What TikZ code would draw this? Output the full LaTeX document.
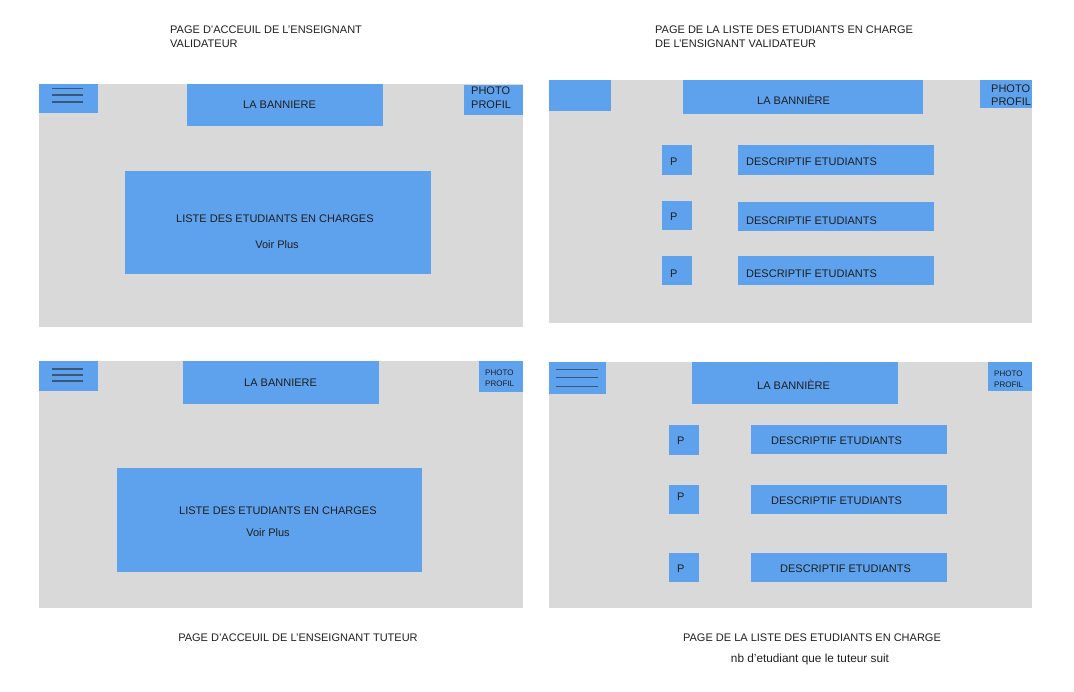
\documentclass[tikz,border=0pt]{standalone}
\usepackage{fontspec}
\setmainfont{Liberation Sans}
\usetikzlibrary{positioning}
\definecolor{pagegray}{HTML}{D9D9D9}
\definecolor{blockblue}{HTML}{5EA2EE}
\definecolor{burgerline}{HTML}{3A5679}

\begin{document}
\begin{tikzpicture}[x=1pt,y=-1pt,font=\fontsize{11}{14}\selectfont,
page/.style={fill=pagegray,inner sep=0pt,outer sep=0pt,anchor=north west},
block/.style={fill=blockblue,inner sep=0pt,outer sep=0pt,anchor=north west},
lbl/.style={inner sep=0pt,anchor=west,text=black!88,yshift=-0.8pt},
small lbl/.style={lbl,font=\fontsize{8}{9}\selectfont},
burger/.style={draw=burgerline,line width=1.2pt}]
\useasboundingbox (0,0) rectangle (1074,692);

%titles
\node[lbl,anchor=north west,align=left] (titleA) at (170,25) {PAGE D’ACCEUIL DE L’ENSEIGNANT\\VALIDATEUR};
\node[lbl,anchor=north west,align=left] (titleB) at (655,25) {PAGE DE LA LISTE DES ETUDIANTS EN CHARGE\\DE L’ENSIGNANT VALIDATEUR};
\node[lbl,anchor=center] (titleC) at (298,637) {PAGE D’ACCEUIL DE L’ENSEIGNANT TUTEUR};
\node[lbl,anchor=center] (titleD) at (812,637) {PAGE DE LA LISTE DES ETUDIANTS EN CHARGE};
\node[lbl,anchor=center,font=\fontsize{11.8}{14}\selectfont] (noteD) at (810,659) {nb d’etudiant que le tuteur suit};

%accueil validateur
\node[page,minimum width=484pt,minimum height=243pt] (pageA) at (39,84) {};
\node[block,minimum width=59pt,minimum height=29pt] (menuA) at (39,84) {};
\node[block,minimum width=196pt,minimum height=42pt] (bannerA) at (187,84) {};
\node[block,minimum width=59pt,minimum height=30pt] (photoA) at (464,85) {};
\node[block,minimum width=306pt,minimum height=103pt] (listA) at (125,171) {};
\draw[burger] ([shift={(13,4.5)}]menuA.north west) -- ++(31,0);
\draw[burger] ([shift={(13,11)}]menuA.north west) -- ++(31,0);
\draw[burger] ([shift={(13,18)}]menuA.north west) -- ++(31,0);
\node[lbl] (bannerAtxt) at (243,104) {LA BANNIERE};
\node[lbl] (photoAtxt) at (471,90) {PHOTO};
\node[lbl] (profilAtxt) at (471,104) {PROFIL};
\node[lbl] (listAtxt) at (176,218) {LISTE DES ETUDIANTS EN CHARGES};
\node[lbl,anchor=center] (moreA) at (277,244) {Voir Plus};

%liste validateur
\node[page,minimum width=483pt,minimum height=243pt] (pageB) at (549,80) {};
\node[block,minimum width=62pt,minimum height=31pt] (menuB) at (549,80) {};
\node[block,minimum width=240pt,minimum height=34pt] (bannerB) at (683,80) {};
\node[block,minimum width=52pt,minimum height=28pt] (photoB) at (980,80) {};
\node[block,minimum width=30pt,minimum height=30pt] (pB1) at (662,145) {};
\node[block,minimum width=196pt,minimum height=30pt] (dB1) at (738,145) {};
\node[block,minimum width=30pt,minimum height=29pt] (pB2) at (662,201) {};
\node[block,minimum width=196pt,minimum height=29pt] (dB2) at (738,202) {};
\node[block,minimum width=30pt,minimum height=29pt] (pB3) at (662,256) {};
\node[block,minimum width=196pt,minimum height=29pt] (dB3) at (738,256) {};
\node[lbl] (bannerBtxt) at (757,99) {LA BANNIÈRE};
\node[lbl] (photoBtxt) at (991,88) {PHOTO};
\node[lbl] (profilBtxt) at (991,101) {PROFIL};
\node[lbl] (pB1txt) at (670,161) {P};
\node[lbl] (pB2txt) at (670,216) {P};
\node[lbl] (pB3txt) at (670,273) {P};
\node[lbl] (dB1txt) at (746,161) {DESCRIPTIF ETUDIANTS};
\node[lbl] (dB2txt) at (746,220) {DESCRIPTIF ETUDIANTS};
\node[lbl] (dB3txt) at (746,273) {DESCRIPTIF ETUDIANTS};

%accueil tuteur
\node[page,minimum width=484pt,minimum height=247pt] (pageC) at (39,361) {};
\node[block,minimum width=59pt,minimum height=30pt] (menuC) at (39,361) {};
\node[block,minimum width=196pt,minimum height=43pt] (bannerC) at (183,361) {};
\node[block,minimum width=44pt,minimum height=31pt] (photoC) at (479,361) {};
\node[block,minimum width=305pt,minimum height=104pt] (listC) at (117,468) {};
\draw[burger] ([shift={(13,8)}]menuC.north west) -- ++(31,0);
\draw[burger] ([shift={(13,14)}]menuC.north west) -- ++(31,0);
\draw[burger] ([shift={(13,20)}]menuC.north west) -- ++(31,0);
\node[lbl] (bannerCtxt) at (244,382) {LA BANNIERE};
\node[small lbl] (photoCtxt) at (485,372) {PHOTO};
\node[small lbl] (profilCtxt) at (485,383) {PROFIL};
\node[lbl] (listCtxt) at (179,510) {LISTE DES ETUDIANTS EN CHARGES};
\node[lbl,anchor=center] (moreC) at (268,532) {Voir Plus};

%liste tuteur
\node[page,minimum width=483pt,minimum height=246pt] (pageD) at (549,362) {};
\node[block,minimum width=57pt,minimum height=32pt] (menuD) at (549,362) {};
\node[block,minimum width=206pt,minimum height=42pt] (bannerD) at (692,362) {};
\node[block,minimum width=44pt,minimum height=29pt] (photoD) at (988,362) {};
\node[block,minimum width=30pt,minimum height=30pt] (pD1) at (669,425) {};
\node[block,minimum width=196pt,minimum height=29pt] (dD1) at (751,425) {};
\node[block,minimum width=30pt,minimum height=29pt] (pD2) at (669,485) {};
\node[block,minimum width=196pt,minimum height=29pt] (dD2) at (751,485) {};
\node[block,minimum width=30pt,minimum height=29pt] (pD3) at (669,553) {};
\node[block,minimum width=196pt,minimum height=29pt] (dD3) at (751,553) {};
\draw[burger] ([shift={(7,7.7)}]menuD.north west) -- ++(42,0);
\draw[burger] ([shift={(7,15.3)}]menuD.north west) -- ++(42,0);
\draw[burger] ([shift={(7,24.3)}]menuD.north west) -- ++(42,0);
\node[lbl] (bannerDtxt) at (757,384) {LA BANNIÈRE};
\node[small lbl] (photoDtxt) at (994,373) {PHOTO};
\node[small lbl] (profilDtxt) at (994,384) {PROFIL};
\node[lbl] (pD1txt) at (677,440) {P};
\node[lbl] (pD2txt) at (677,496) {P};
\node[lbl] (pD3txt) at (677,568) {P};
\node[lbl] (dD1txt) at (771,440) {DESCRIPTIF ETUDIANTS};
\node[lbl] (dD2txt) at (771,500) {DESCRIPTIF ETUDIANTS};
\node[lbl] (dD3txt) at (780,568) {DESCRIPTIF ETUDIANTS};

\end{tikzpicture}
\end{document}
